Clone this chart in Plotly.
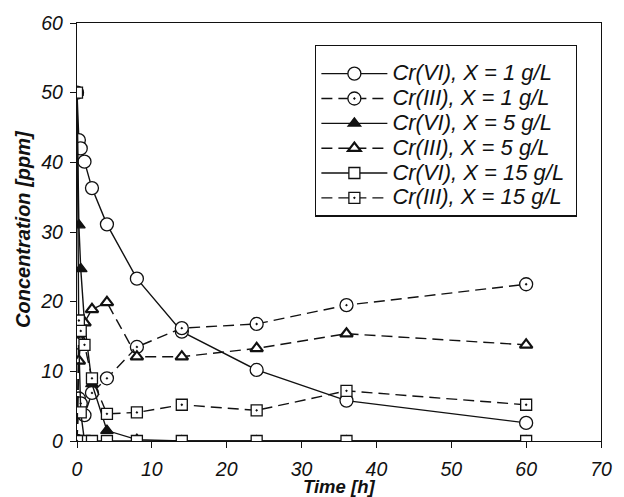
import plotly.graph_objects as go

# time points [h]
time_h = [0, 0.25, 0.5, 1, 2, 4, 8, 14, 24, 36, 60]

# concentrations [ppm]
cr6_x1 = [50, 43.2, 42.0, 40.1, 36.3, 31.1, 23.3, 15.7, 10.2, 5.8, 2.6]
cr3_x1 = [0, 6.1, 5.4, 3.7, 6.9, 9.0, 13.5, 16.2, 16.8, 19.5, 22.5]
cr6_x5 = [50, 31.0, 24.7, 17.0, 8.2, 1.5, 0.2, 0, 0, 0, 0]
cr3_x5 = [0, 11.5, 14.5, 17.0, 18.9, 19.9, 12.1, 12.1, 13.3, 15.4, 13.8]
cr6_x15 = [50, 14.0, 4.1, 0, 0, 0, 0, 0, 0, 0, 0]
cr3_x15 = [0, 17.3, 15.8, 13.8, 9.0, 3.9, 4.1, 5.2, 4.4, 7.2, 5.2]

names = ["Cr(VI), X = 1 g/L", "Cr(III), X = 1 g/L", "Cr(VI), X = 5 g/L",
         "Cr(III), X = 5 g/L", "Cr(VI), X = 15 g/L", "Cr(III), X = 15 g/L"]

x_ticks = [0, 10, 20, 30, 40, 50, 60, 70]
y_ticks = [0, 10, 20, 30, 40, 50, 60]

FONT = "Liberation Sans, Arial, sans-serif"
INK = "#111111"
DASH = "11px,6px"

series = [
    (cr6_x1, "circle", "white", "solid", 13, 1.3),
    (cr3_x1, "circle-dot", "white", DASH, 13, 1.3),
    (cr6_x5, "triangle-up", INK, "solid", 11, 1.3),
    (cr3_x5, "triangle-up", "white", DASH, 11, 2.2),
    (cr6_x15, "square", "white", "solid", 11, 1.3),
    (cr3_x15, "square-dot", "white", DASH, 11, 1.3),
]

fig = go.Figure()
for (vals, sym, fill, dash, size, lw), name in zip(series, names):
    fig.add_trace(go.Scatter(
        x=time_h, y=vals, mode="lines+markers",
        name='<span style="font-size:22px">' + name + '&nbsp;</span>',
        line=dict(color=INK, width=1.4, dash=dash),
        marker=dict(symbol=sym, size=size, color=fill, line=dict(color=INK, width=lw)),
    ))

fig.update_layout(
    width=624, height=497,
    margin=dict(l=77, r=19, t=16, b=56),
    paper_bgcolor="white", plot_bgcolor="white",
    showlegend=True,
    legend=dict(
        x=(317 - 77) / 528, y=1 - (38 - 16) / 425, xanchor="left", yanchor="top",
        bgcolor="white", bordercolor=INK, borderwidth=1.2,
        font=dict(family=FONT, size=16.8, color=INK, style="italic"),
        itemwidth=66, tracegroupgap=0,
        title=dict(text="&nbsp;", font=dict(family=FONT, size=8)),
    ),
    xaxis=dict(
        range=[0, 70], tickvals=x_ticks, ticktext=[str(v) for v in x_ticks],
        showgrid=False, zeroline=False, showline=True, linecolor=INK, linewidth=1.3,
        mirror=True, ticks="outside", ticklen=6, tickcolor=INK,
        tickfont=dict(family=FONT, size=19.5, color=INK, style="italic"),
        ticklabelstandoff=4,
    ),
    yaxis=dict(
        range=[0, 60], tickvals=y_ticks, ticktext=[str(v) for v in y_ticks],
        showgrid=False, zeroline=False, showline=True, linecolor=INK, linewidth=1.3,
        mirror=True, ticks="outside", ticklen=6, tickcolor=INK,
        tickfont=dict(family=FONT, size=19.5, color=INK, style="italic"),
        ticklabelstandoff=3,
    ),
    annotations=[
        dict(text="Time [h]", xref="paper", yref="paper", x=0.5, y=(441 - 487) / 425,
             xanchor="center", yanchor="middle", showarrow=False,
             font=dict(family=FONT, size=18.5, color=INK, style="italic", weight="bold")),
        dict(text="Concentration [ppm]", xref="paper", yref="paper",
             x=(22 - 77) / 528, y=1 - (225 - 16) / 425, textangle=-90,
             xanchor="center", yanchor="middle", showarrow=False,
             font=dict(family=FONT, size=20, color=INK, style="italic", weight="bold")),
    ],
)

fig.write_html(
    "out.html",
    config={"displayModeBar": False},
    post_script="document.body.style.margin='0';document.body.style.overflow='hidden';",
)
